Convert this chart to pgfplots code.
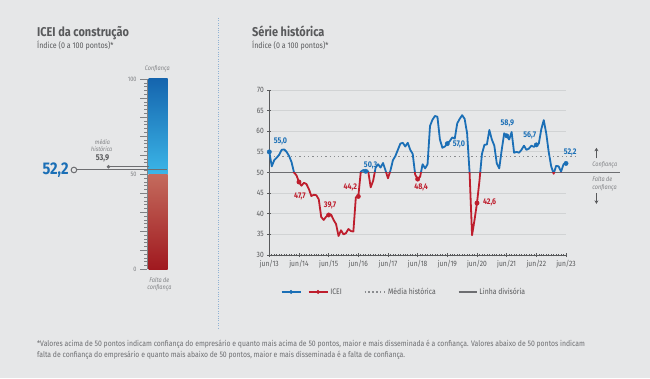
\documentclass[border=0pt]{standalone}
\usepackage{fontspec}
\setmainfont{Fira Sans}[FakeStretch=0.86]
\usepackage{pgfplots}
\pgfplotsset{compat=1.18}
\usepackage{pgfplotstable}
\usetikzlibrary{arrows.meta}
\definecolor{bg}{HTML}{E6E7E8}
\definecolor{titlegray}{HTML}{58595B}
\definecolor{footgray}{HTML}{6D6E71}
\definecolor{annot}{HTML}{808285}
\definecolor{icblue}{HTML}{1B6FB6}
\definecolor{icred}{HTML}{BE1E2D}
\definecolor{gridcol}{HTML}{D1D3D4}
\definecolor{axisgray}{HTML}{58595B}
\definecolor{linecol}{HTML}{6D6E71}
\definecolor{dotcol}{HTML}{8A8C8F}
\definecolor{sepcol}{HTML}{8FB1D3}
\definecolor{blueTop}{HTML}{1565AE}
\definecolor{blueBot}{HTML}{3BB6E8}
\definecolor{redTop}{HTML}{C46B5D}
\definecolor{redBot}{HTML}{A0191F}

\pgfplotstableread{
m v
0 55.0
1 51.5
2 53.0
3 53.6
4 54.3
5 55.5
6 55.6
7 55.0
8 54.0
9 52.5
10 50.0
11 49.3
12 47.7
13 46.8
14 47.5
15 47.2
16 46.0
17 44.3
18 44.6
19 44.5
20 43.5
21 39.2
22 38.5
23 39.3
24 39.7
25 39.8
26 38.5
27 37.5
28 34.6
29 36.0
30 35.0
31 35.3
32 36.3
33 35.8
34 35.7
35 44.0
36 44.2
37 50.2
38 50.6
39 50.3
40 50.3
41 46.4
42 48.0
43 51.2
44 52.0
45 51.2
46 52.3
47 50.5
48 48.6
49 50.5
50 53.0
51 54.0
52 55.5
53 57.0
54 57.2
55 56.3
56 57.2
57 55.5
58 54.5
59 49.5
60 48.4
61 49.0
62 52.0
63 51.0
64 52.0
65 61.3
66 62.8
67 63.7
68 63.5
69 58.0
70 56.0
71 56.3
72 57.0
73 57.6
74 58.5
75 58.2
76 61.9
77 63.0
78 63.9
79 63.0
80 59.5
81 50.0
82 34.8
83 38.5
84 42.6
85 48.0
86 54.5
87 56.7
88 56.8
89 60.3
90 58.0
91 56.5
92 52.2
93 51.0
94 55.5
95 59.5
96 58.9
97 58.0
98 59.8
99 54.8
100 55.0
101 54.8
102 55.5
103 56.5
104 55.5
105 55.8
106 56.5
107 56.2
108 56.7
109 57.0
110 60.5
111 62.7
112 59.5
113 55.0
114 51.5
115 49.7
116 51.6
117 51.5
118 50.2
119 52.0
120 52.2
}\icei

\begin{document}
\begin{tikzpicture}[x=1bp,y=1bp]
\fill[bg] (0,0) rectangle (650,378);
\useasboundingbox (0,0) rectangle (650,378);
% separator
\draw[sepcol, line width=0.8bp, dash pattern=on 0.8bp off 1.6bp] (218,360) -- (218,48);
% titles
\node[anchor=base west, inner sep=0, font=\fontsize{12.8}{14}\selectfont\bfseries, text=titlegray] at (37,341.3) {ICEI da construção};
\node[anchor=base west, inner sep=0, font=\fontsize{8.3}{9}\selectfont, text=titlegray] at (37,329.7) {Índice (0 a 100 pontos)*};
\node[anchor=base west, inner sep=0, font=\fontsize{12.8}{14}\selectfont\bfseries, text=titlegray] at (252,341.3) {Série histórica};
\node[anchor=base west, inner sep=0, font=\fontsize{8.3}{9}\selectfont, text=titlegray] at (252,329.7) {Índice (0 a 100 pontos)*};
% footnote
\node[anchor=north west, inner sep=0, align=left, font=\fontsize{8}{11}\selectfont, text=footgray] at (37,38) {*Valores acima de 50 pontos indicam confiança do empresário e quanto mais acima de 50 pontos, maior e mais disseminada é a confiança. Valores abaixo de 50 pontos indicam\\falta de confiança do empresário e quanto mais abaixo de 50 pontos, maior e mais disseminada é a falta de confiança.};

% left gauge
\begin{axis}[at={(147bp,108.7bp)}, anchor=south west, scale only axis,
  width=20.7bp, height=190.3bp, xmin=0, xmax=1, ymin=0, ymax=100, clip=false,
  axis x line=none, axis y line*=left,
  y axis line style={annot, line width=0.6bp, -},
  ytick={0,10,...,100}, yticklabels={0,,,,,50,,,,,100},
  minor y tick num=4, tick align=outside,
  major tick length=7bp, minor tick length=3bp,
  tick style={annot, line width=0.5bp},
  yticklabel style={font=\fontsize{6.5}{7}\selectfont, text=annot},
  /pgf/number format/assume math mode=true]
\addplot[draw=none, top color=blueTop, bottom color=blueBot] coordinates {(0.08,50) (1,50) (1,100) (0.08,100)} -- cycle;
\addplot[draw=none, top color=redTop, bottom color=redBot] coordinates {(0.08,0) (1,0) (1,50) (0.08,50)} -- cycle;
\addplot[linecol, line width=0.7bp, mark=*, mark indices={1}, mark size=1.4bp, mark options={fill=linecol}] coordinates {(-1.86,53.9) (0.08,53.9)};
\addplot[linecol, line width=1bp, mark=*, mark indices={1}, mark size=2.8bp, mark options={draw=linecol, fill=bg, line width=1bp}] coordinates {(-3.53,52.2) (0.97,52.2)};
\node[anchor=east, inner sep=0, font=\fontsize{17}{18}\selectfont\bfseries, text=icblue] at (axis cs:-3.53,52.2) [xshift=-5bp] {52,2};
\node[font=\fontsize{6.5}{7}\selectfont\itshape, text=annot] at (axis cs:0.5,105.3) {Confiança};
\node[align=center, font=\fontsize{6.5}{7}\selectfont\itshape, text=annot] at (axis cs:0.6,-8) {Falta de\\confiança};
\end{axis}
\node[font=\fontsize{6.3}{7}\selectfont\itshape, text=annot] at (102.5,236.3) {média};
\node[font=\fontsize{6.3}{7}\selectfont\itshape, text=annot] at (101.7,228.7) {histórica};
\node[font=\fontsize{8.5}{9}\selectfont\bfseries, text=titlegray] at (102.5,219.3) {53,9};

% main chart
\begin{axis}[at={(269.3bp,123bp)}, anchor=south west, scale only axis,
  width=296.7bp, height=165bp, xmin=0, xmax=120, ymin=30, ymax=70, clip=false,
  axis x line*=bottom, axis y line*=left,
  axis line style={axisgray, line width=0.8bp, -},
  ytick={30,35,...,70}, xtick={0,12,...,120},
  xticklabels={jun/13,jun/14,jun/15,jun/16,jun/17,jun/18,jun/19,jun/20,jun/21,jun/22,jun/23},
  minor x tick num=11,
  ymajorgrids, grid style={gridcol, line width=0.8bp},
  tick style={axisgray, line width=0.6bp}, tick align=center,
  major tick length=4bp, minor tick length=2.6bp,
  tick label style={font=\fontsize{7.8}{8}\selectfont, text=titlegray},
  /pgf/number format/assume math mode=true,
  legend style={at={(0.454,-0.224)}, anchor=center, draw=none, fill=none,
    legend columns=-1, font=\fontsize{8}{9}\selectfont, text=titlegray,
    /tikz/every even column/.append style={column sep=20bp}}]
\addlegendimage{legend image code/.code={
  \draw[icblue, line width=1.5bp] (0bp,0bp) -- (19bp,0bp);
  \fill[icblue] (9.5bp,0bp) circle (1.8bp);
  \draw[icred, line width=1.5bp] (27bp,0bp) -- (46bp,0bp);
  \fill[icred] (36.5bp,0bp) circle (1.8bp);}}
\addlegendentry{ICEI}
\addlegendimage{legend image code/.code={
  \draw[dotcol, line width=1.3bp, dash pattern=on 1.3bp off 2.6bp] (0bp,0bp) -- (21bp,0bp);}}
\addlegendentry{Média histórica}
\addlegendimage{legend image code/.code={
  \draw[linecol, line width=1.6bp] (0bp,0bp) -- (18bp,0bp);}}
\addlegendentry{Linha divisória}

\addplot[linecol, line width=1.5bp] coordinates {(0,50) (142,50)};
\addplot[dotcol, line width=1.3bp, dash pattern=on 1.3bp off 3bp] coordinates {(0,53.9) (124.6,53.9)};

\begin{scope}
\clip (axis cs:-3,50) rectangle (axis cs:123,72);
\addplot[icblue, line width=1.8bp, line join=round] table[x=m, y=v] {\icei};
\end{scope}
\begin{scope}
\clip (axis cs:-3,28) rectangle (axis cs:123,50);
\addplot[icred, line width=1.8bp, line join=round] table[x=m, y=v] {\icei};
\end{scope}

\addplot[only marks, mark=*, mark size=2.2bp, icblue] coordinates {(0,55.0) (39,50.3) (72,57.0) (96,58.9) (108,56.7) (120,52.2)};
\addplot[only marks, mark=*, mark size=2.2bp, icred] coordinates {(12,47.7) (24,39.7) (36,44.2) (60,48.4) (84,42.6)};

\begin{scope}[every node/.style={font=\fontsize{8.3}{9}\selectfont\bfseries, inner sep=0}]
\node[text=icblue] at (axis cs:4.5,57.6) {55,0};
\node[text=icred] at (axis cs:12.4,44.3) {47,7};
\node[text=icred] at (axis cs:24.6,42.0) {39,7};
\node[text=icred] at (axis cs:32.8,46.3) {44,2};
\node[text=icblue] at (axis cs:41,51.8) {50,3};
\node[text=icred] at (axis cs:61.4,46.3) {48,4};
\node[text=icblue] at (axis cs:76.7,56.8) {57,0};
\node[text=icred] at (axis cs:89.1,42.7) {42,6};
\node[text=icblue] at (axis cs:96.3,62.0) {58,9};
\node[text=icblue] at (axis cs:105.3,59.0) {56,7};
\node[text=icblue] at (axis cs:121.7,54.8) {52,2};
\end{scope}

\node[anchor=west, inner sep=0, font=\fontsize{6.5}{7}\selectfont\itshape, text=annot] at (axis cs:130.6,51.9) {Confiança};
\node[anchor=west, inner sep=0, align=left, font=\fontsize{6.5}{8}\selectfont\itshape, text=annot] at (axis cs:130.6,47.3) {Falta de\\confiança};
\draw[-{Stealth[length=3.5bp,width=4bp]}, axisgray, line width=1bp] (axis cs:132.3,53.4) -- (axis cs:132.3,56.0);
\draw[-{Stealth[length=3.5bp,width=4bp]}, axisgray, line width=1bp] (axis cs:132.3,45.0) -- (axis cs:132.3,42.4);
\end{axis}
\end{tikzpicture}
\end{document}
